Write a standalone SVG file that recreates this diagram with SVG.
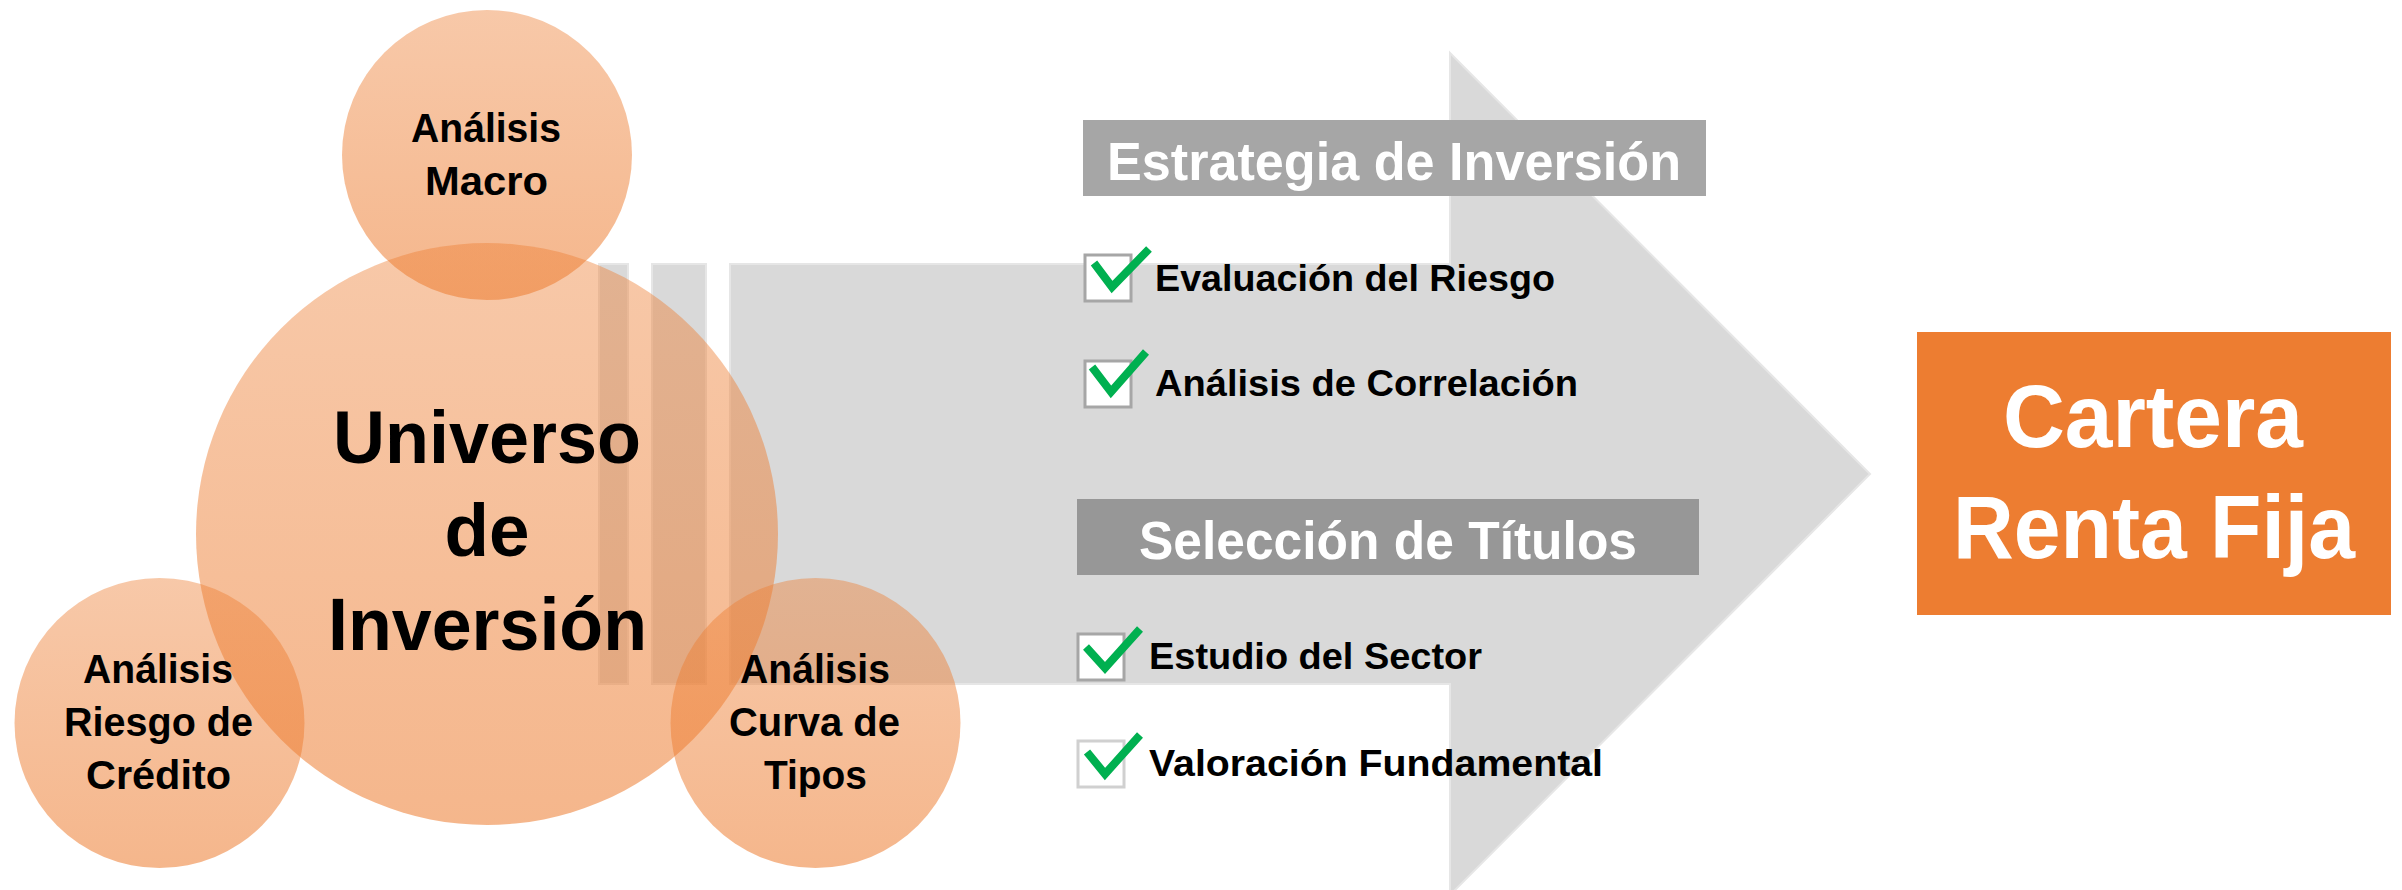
<svg xmlns="http://www.w3.org/2000/svg" width="2402" height="890" viewBox="0 0 2402 890">
  <defs>
    <linearGradient id="orangeGrad" x1="0" y1="0" x2="0" y2="1">
      <stop offset="0" stop-color="#ED7D31" stop-opacity="0.42"/>
      <stop offset="1" stop-color="#ED7D31" stop-opacity="0.56"/>
    </linearGradient>
  </defs>
  <style>
    .bubble { fill: url(#orangeGrad); }
    .ctext { font-family: "Liberation Sans", Arial, sans-serif; font-weight: bold; fill: #000000; }
    .small { font-size: 40px; }
    .big { font-size: 74px; }
    .head { fill: #A6A6A6; }
    .head2 { fill: #979797; }
    .htext { font-family: "Liberation Sans", Arial, sans-serif; font-weight: bold; font-size: 53px; fill: #FFFFFF; }
    .item { font-family: "Liberation Sans", Arial, sans-serif; font-weight: bold; font-size: 36px; fill: #000000; }
    .cbox { fill: #FFFFFF; stroke: #A6A6A6; stroke-width: 3; }
    .cbox.light { stroke: #D0D0D0; }
    .check { fill: none; stroke: #00B050; stroke-width: 8; stroke-linecap: butt; stroke-linejoin: miter; }
    .otext { font-family: "Liberation Sans", Arial, sans-serif; font-weight: bold; font-size: 89px; fill: #FFFFFF; }
    .arrow { fill: #D9D9D9; stroke: #E6E6E6; stroke-width: 2; }
  </style>
  <rect width="2402" height="890" fill="#FFFFFF"/>

  <g id="connectors">
    <rect class="arrow" x="599" y="264" width="29" height="420"/>
    <rect class="arrow" x="652" y="264" width="54" height="420"/>
    <polygon class="arrow" points="730,264 1450,264 1450,53 1870,474 1450,895 1450,684 730,684"/>
  </g>

  <g id="node-macro">
    <circle class="bubble" cx="487" cy="155" r="145"/>
    <text class="ctext small" x="411" y="142" textLength="150" lengthAdjust="spacingAndGlyphs">Análisis</text>
    <text class="ctext small" x="425" y="195" textLength="123" lengthAdjust="spacingAndGlyphs">Macro</text>
  </g>

  <g id="node-universo">
    <circle class="bubble" cx="487" cy="534" r="291"/>
    <text class="ctext big" x="333" y="463" textLength="308" lengthAdjust="spacingAndGlyphs">Universo</text>
    <text class="ctext big" x="444.5" y="556" textLength="85" lengthAdjust="spacingAndGlyphs">de</text>
    <text class="ctext big" x="328" y="650" textLength="319" lengthAdjust="spacingAndGlyphs">Inversión</text>
  </g>

  <g id="node-credito">
    <circle class="bubble" cx="159.5" cy="723" r="145"/>
    <text class="ctext small" x="83" y="683" textLength="150" lengthAdjust="spacingAndGlyphs">Análisis</text>
    <text class="ctext small" x="64" y="736" textLength="189" lengthAdjust="spacingAndGlyphs">Riesgo de</text>
    <text class="ctext small" x="86" y="789" textLength="145" lengthAdjust="spacingAndGlyphs">Crédito</text>
  </g>

  <g id="node-curva">
    <circle class="bubble" cx="815.5" cy="723" r="145"/>
    <text class="ctext small" x="740" y="683" textLength="150" lengthAdjust="spacingAndGlyphs">Análisis</text>
    <text class="ctext small" x="729" y="736" textLength="171" lengthAdjust="spacingAndGlyphs">Curva de</text>
    <text class="ctext small" x="764" y="789" textLength="103" lengthAdjust="spacingAndGlyphs">Tipos</text>
  </g>

  <g id="node-estrategia">
    <rect class="head" x="1083" y="120" width="623" height="76"/>
    <text class="htext" x="1107" y="180" textLength="574" lengthAdjust="spacingAndGlyphs">Estrategia de Inversión</text>
  </g>

  <g id="node-evaluacion">
    <rect class="cbox" x="1085" y="255" width="46" height="46"/>
    <polyline class="check" points="1094,263 1112,287 1149,249"/>
    <text class="item" x="1155" y="291" textLength="400" lengthAdjust="spacingAndGlyphs">Evaluación del Riesgo</text>
  </g>

  <g id="node-correlacion">
    <rect class="cbox" x="1085" y="361" width="46" height="46"/>
    <polyline class="check" points="1092,367 1111,392 1146,352"/>
    <text class="item" x="1155" y="396" textLength="423" lengthAdjust="spacingAndGlyphs">Análisis de Correlación</text>
  </g>

  <g id="node-seleccion">
    <rect class="head2" x="1077" y="499" width="622" height="76"/>
    <text class="htext" x="1139" y="559" textLength="498" lengthAdjust="spacingAndGlyphs">Selección de Títulos</text>
  </g>

  <g id="node-sector">
    <rect class="cbox" x="1078" y="634" width="46" height="46"/>
    <polyline class="check" points="1086,647 1105,668 1140,629"/>
    <text class="item" x="1149" y="669" textLength="333" lengthAdjust="spacingAndGlyphs">Estudio del Sector</text>
  </g>

  <g id="node-valoracion">
    <rect class="cbox light" x="1078" y="741" width="46" height="46"/>
    <polyline class="check" points="1087,752 1105,774 1140,735"/>
    <text class="item" x="1149" y="776" textLength="454" lengthAdjust="spacingAndGlyphs">Valoración Fundamental</text>
  </g>

  <g id="node-cartera">
    <rect x="1917" y="332" width="474" height="283" fill="#ED7D31"/>
    <text class="otext" x="2003" y="447" textLength="300" lengthAdjust="spacingAndGlyphs">Cartera</text>
    <text class="otext" x="1953" y="558" textLength="402" lengthAdjust="spacingAndGlyphs">Renta Fija</text>
  </g>
</svg>
